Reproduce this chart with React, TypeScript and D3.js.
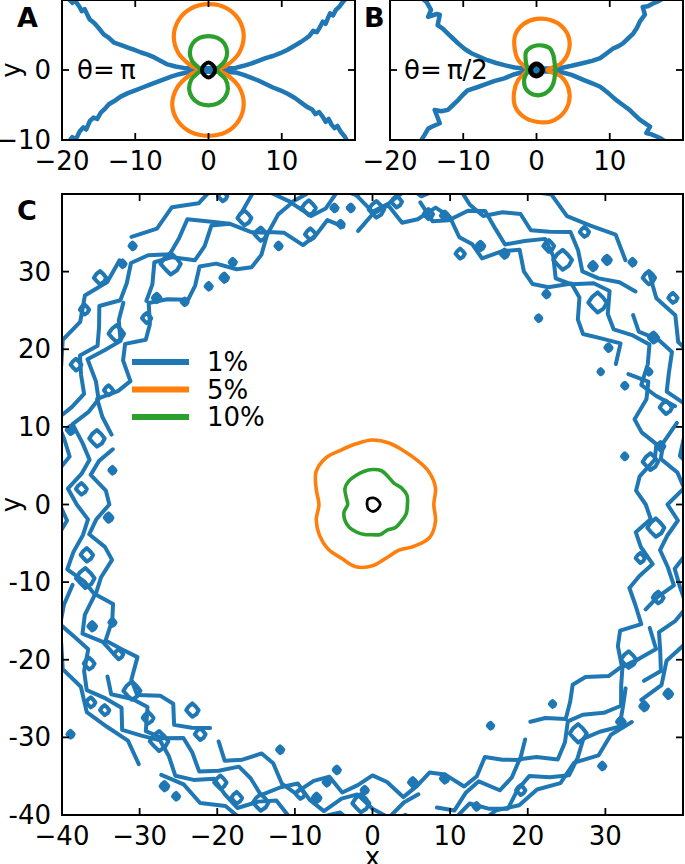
import React from 'react';
import * as d3 from 'd3';

const W = 685;
const H = 864;
const FONT = 'DejaVu Sans, sans-serif';

// ---------- colours / levels ----------
const levelNames = ['1%', '5%', '10%'];
const levelColors = ['#1f77b4', '#ff7f0e', '#2ca02c'];

// ---------- Panel A (theta = pi) ----------
const aUpperX = [-19.2, -18.6, -18.2, -17.6, -17.3, -16.9, -16.5, -16.2, -15.6, -15.0, -14.3, -13.6, -12.9, -12.0, -11.0, -10.2, -9.2, -8.3, -7.4, -6.5, -5.6, -4.5, -3.4, -2.0, 0, 2.0, 3.7, 4.8, 5.8, 6.8, 7.8, 8.8, 9.8, 10.8, 11.8, 12.6, 13.3, 13.8, 14.3, 14.8, 15.2, 15.6, 16.0, 16.3, 16.6, 17.0, 17.4, 17.9, 18.4, 18.9];
const aUpperY = [10.3, 9.6, 9.9, 9.0, 8.4, 8.7, 7.8, 7.2, 6.7, 6.0, 5.1, 4.6, 3.9, 3.6, 3.2, 2.9, 2.5, 2.2, 1.8, 1.3, 0.8, 0.5, 0.3, 0.25, 0.25, 0.25, 0.3, 0.6, 0.9, 1.3, 1.7, 2.0, 2.4, 2.9, 3.5, 4.0, 4.5, 4.9, 5.6, 5.4, 6.1, 6.9, 6.6, 7.4, 8.1, 7.8, 8.6, 9.1, 9.8, 10.3];
const aLowerX = [-19.2, -18.6, -18.1, -17.6, -17.1, -16.7, -16.2, -15.7, -15.2, -14.7, -14.2, -13.6, -12.8, -12.0, -11.0, -10.0, -9.0, -8.0, -7.0, -6.0, -5.0, -4.0, -3.0, -2.0, 0, 2.0, 3.7, 4.8, 5.8, 6.8, 7.8, 8.8, 9.8, 10.8, 11.8, 12.7, 13.5, 14.1, 14.6, 15.1, 15.6, 16.0, 16.4, 16.8, 17.2, 17.6, 18.1, 18.6, 19.0];
const aLowerY = [-10.4, -9.6, -9.9, -8.8, -8.2, -8.5, -7.3, -6.8, -7.0, -6.1, -5.6, -4.9, -4.4, -3.8, -3.3, -2.9, -2.5, -2.1, -1.7, -1.3, -0.9, -0.6, -0.35, -0.25, -0.25, -0.25, -0.35, -0.7, -1.1, -1.5, -2.0, -2.5, -2.9, -3.4, -4.0, -4.7, -5.3, -5.6, -6.3, -6.0, -6.7, -7.4, -7.0, -7.8, -8.3, -8.0, -8.9, -9.5, -10.3];
// radii every 15 degrees
const aOrangeR = [1.4, 2.6, 4.8, 6.8, 8.3, 9.2, 9.4, 9.1, 8.2, 6.7, 4.7, 2.5, 1.4, 2.6, 4.9, 7.0, 8.4, 9.2, 9.4, 9.2, 8.3, 6.8, 4.8, 2.6];
const aGreenR = [0.9, 1.4, 2.6, 3.6, 4.35, 4.75, 4.85, 4.75, 4.35, 3.6, 2.6, 1.4, 0.9, 1.45, 2.7, 3.75, 4.5, 4.95, 5.05, 4.95, 4.5, 3.75, 2.7, 1.45];
// radii every 30 degrees
const aBlackR = [0.88, 0.9, 0.95, 1.08, 0.95, 0.9, 0.88, 0.9, 0.95, 1.08, 0.95, 0.9];

// ---------- Panel B (theta = pi/2) ----------
const bUpperX = [-15.6, -15.0, -14.4, -14.8, -13.6, -13.2, -13.5, -12.8, -12.1, -11.4, -10.7, -9.8, -8.9, -7.8, -6.7, -5.5, -4.4, -3.0, -1.7, 0, 1.6, 3.2, 4.8, 6.4, 7.6, 8.7, 9.6, 10.5, 11.2, 11.8, 12.5, 13.2, 13.7, 14.1, 14.8, 14.5, 15.2, 15.9, 16.6, 17.4];
const bUpperY = [10.2, 9.7, 8.6, 7.6, 8.0, 7.9, 6.4, 5.9, 5.2, 4.5, 3.8, 3.0, 2.4, 1.9, 1.4, 1.0, 0.7, 0.35, 0.2, 0.2, 0.2, 0.25, 0.6, 1.0, 1.3, 1.7, 2.4, 3.1, 3.4, 3.8, 4.5, 5.2, 6.0, 6.9, 7.9, 9.0, 9.1, 9.5, 9.8, 10.3];
const bLowerX = [-15.9, -15.3, -14.8, -14.3, -13.2, -13.9, -13.0, -12.1, -11.4, -10.7, -10.0, -9.4, -8.2, -7.1, -5.8, -4.4, -3.0, -1.7, 0, 1.6, 3.2, 4.8, 6.4, 7.6, 8.7, 9.8, 10.9, 11.8, 12.7, 13.4, 14.1, 14.8, 15.5, 15.0, 15.7, 16.4, 17.0, 17.8];
const bLowerY = [-10.3, -9.3, -8.4, -8.1, -7.6, -5.7, -5.9, -5.7, -5.0, -4.3, -3.5, -2.9, -2.5, -2.1, -1.6, -1.2, -0.6, -0.25, -0.2, -0.2, -0.25, -0.7, -1.4, -1.9, -2.4, -3.3, -4.3, -5.0, -5.7, -6.4, -7.1, -7.6, -8.1, -9.0, -9.2, -9.5, -9.8, -10.4];
const bOrangeR = [1.5, 3.4, 5.0, 6.3, 7.1, 7.4, 7.3, 6.8, 5.8, 4.2, 2.9, 1.6, 1.2, 1.6, 2.9, 4.3, 5.9, 6.9, 7.4, 7.6, 7.2, 6.3, 5.0, 3.4];
const bGreenR = [2.6, 2.6, 2.8, 3.2, 3.6, 3.6, 3.5, 3.3, 2.9, 2.1, 1.6, 1.3, 1.2, 1.3, 1.8, 2.4, 3.0, 3.4, 3.6, 3.6, 3.4, 3.1, 2.8, 2.6];
const bBlackR = [0.8, 0.8, 0.82, 0.84, 0.82, 0.8, 0.8, 0.82, 0.84, 0.84, 0.82, 0.8];

// ---------- Panel C (all angles) ----------
const cOrangeR = [7.9, 8.4, 8.4, 8.1, 8.0, 8.2, 8.3, 8.1, 8.1, 8.5, 8.4, 7.5, 6.9, 7.5, 7.9, 8.1, 8.0, 8.3, 7.9, 7.1, 6.8, 7.6, 8.5, 8.4];
const cGreenR = [4.5, 4.6, 4.3, 3.9, 4.1, 4.5, 4.5, 4.4, 4.3, 4.3, 4.1, 3.5, 3.2, 3.8, 4.1, 4.2, 4.1, 4.0, 3.9, 4.0, 3.8, 4.2, 4.3, 4.5];
const cBlackR = [0.9, 0.8, 0.85, 0.95, 0.8, 0.85, 0.9, 0.8];
// 1% band: four jagged rings (radii every 3 degrees; outer every 4 degrees)
const bandInnerR = [
  35.2, 34.0, 34.6, 36.8, 37.4, 35.9, 35.5, 37.8, 38.9, 37.0,
  36.2, 38.1, 36.4, 34.9, 35.6, 37.7, 38.3, 36.0, 35.1, 35.8,
  37.9, 36.6, 34.7, 35.9, 36.2, 38.4, 39.1, 37.2, 36.5, 38.6,
  37.4, 35.3, 36.0, 37.1, 35.4, 34.6, 36.8, 37.6, 35.2, 34.3,
  35.0, 37.0, 37.9, 36.3, 35.5, 37.4, 38.8, 36.9, 36.1, 38.0,
  37.1, 35.0, 35.9, 38.0, 36.6, 34.8, 34.2, 35.7, 36.5, 34.4,
  33.9, 35.6, 36.7, 34.9, 34.3, 36.2, 37.5, 35.8, 36.7, 38.6,
  37.3, 36.1, 38.4, 39.0, 36.8, 36.3, 38.2, 37.0, 35.6, 36.4,
  38.1, 36.9, 35.1, 35.7, 37.8, 38.5, 36.4, 35.5, 37.3, 36.2,
  34.9, 35.8, 37.9, 36.7, 35.3, 36.0, 38.2, 37.5, 35.6, 36.9,
  38.0, 36.1, 34.6, 35.4, 37.2, 36.0, 34.7, 35.3, 37.6, 38.3,
  36.5, 35.8, 37.9, 36.3, 34.8, 35.6, 36.9, 35.0, 34.1, 35.9,
];
const bandMid1R = [
  38.0, 40.2, 39.5, 37.6, 38.3, 40.6, 41.0, 39.1, 37.9, 39.8,
  41.2, 40.0, 38.4, 39.0, 41.1, 40.3, 38.2, 37.5, 39.6, 40.8,
  39.2, 37.6, 38.9, 40.5, 39.8, 37.9, 37.3, 39.4, 40.7, 38.8,
  37.7, 39.9, 40.9, 38.6, 38.0, 40.2, 39.3, 37.5, 38.4, 40.6,
  41.5, 39.7, 38.9, 41.0, 42.0, 40.1, 39.2, 41.3, 40.4, 38.7,
  39.8, 41.2, 39.0, 37.8, 38.5, 40.0, 38.2, 36.9, 37.7, 39.3,
  38.1, 36.7, 37.5, 39.0, 40.2, 38.4, 37.6, 39.7, 40.9, 39.0,
  38.5, 40.7, 41.6, 39.8, 39.0, 41.3, 40.5, 38.7, 39.5, 41.0,
  39.6, 37.9, 38.6, 40.1, 38.3, 37.2, 38.9, 40.0, 38.1, 37.4,
  39.2, 40.4, 38.6, 37.8, 39.9, 40.8, 39.0, 38.2, 40.3, 39.5,
  37.9, 38.8, 40.6, 39.4, 37.6, 38.3, 40.1, 41.2, 39.6, 38.4,
  39.7, 41.0, 39.1, 37.7, 38.6, 40.2, 38.9, 37.5, 38.2, 39.4,
];
const bandMid2R = [
  40.5, 42.4, 41.7, 40.1, 41.0, 43.0, 42.2, 40.6, 41.8, 43.3,
  42.5, 40.9, 41.5, 43.6, 42.8, 41.2, 40.4, 42.1, 43.4, 41.9,
  40.8, 42.0, 41.2, 39.8, 40.6, 42.5, 41.6, 40.2, 41.4, 42.7,
  41.0, 39.9, 41.5, 42.6, 40.9, 40.3, 42.2, 43.0, 41.3, 40.6,
  42.1, 43.8, 42.4, 41.5, 43.2, 44.0, 42.6, 41.8, 43.5, 42.0,
  40.9, 42.3, 41.1, 39.8, 40.7, 42.2, 40.6, 39.5, 40.8, 41.9,
  40.3, 39.4, 40.9, 42.3, 41.2, 40.0, 41.8, 43.1, 42.0, 41.1,
  42.9, 43.9, 42.5, 41.6, 43.4, 42.1, 40.9, 41.7, 43.2, 42.3,
  40.8, 41.9, 42.8, 41.0, 40.1, 41.6, 42.5, 40.7, 39.9, 41.4,
  42.6, 41.3, 40.2, 41.8, 43.0, 41.7, 40.5, 42.0, 42.9, 41.2,
  40.4, 41.9, 43.1, 42.0, 40.6, 41.4, 42.8, 41.5, 40.3, 41.7,
  42.9, 41.6, 40.4, 41.8, 42.6, 41.0, 39.8, 40.9, 42.2, 41.1,
];
const bandOuterR = [
  43.5, 44.6, 43.2, 44.9, 45.5, 44.1, 45.8, 44.6, 46.0, 45.2,
  46.5, 45.3, 46.8, 45.6, 44.8, 46.1, 45.0, 44.2, 45.4, 44.0,
  44.7, 43.6, 44.9, 43.8, 44.5, 43.4, 44.8, 45.6, 44.3, 45.9,
  44.8, 46.2, 45.1, 46.4, 45.3, 44.6, 45.8, 44.4, 45.2, 43.9,
  44.6, 43.5, 44.2, 43.1, 44.4, 43.3, 44.0, 43.2, 44.5, 43.6,
  44.7, 43.9, 45.2, 44.3, 45.5, 44.6, 43.8, 45.0, 44.2, 43.5,
  44.4, 43.2, 44.1, 42.9, 43.8, 42.7, 43.6, 42.8, 43.9, 43.0,
  43.7, 42.6, 43.4, 42.5, 43.1, 42.4, 43.3, 42.2, 43.5, 42.7,
  43.6, 42.8, 43.9, 42.9, 44.1, 43.0, 43.7, 42.6, 43.8, 42.9,
];
// where each ring is broken (index of the missing step)
const bandInnerGaps = [9, 31, 55, 78, 101];
const bandMid1Gaps = [5, 27, 46, 70, 93, 112];
const bandMid2Gaps = [12, 38, 64, 85, 108];
const bandOuterGaps = [10, 33, 57, 80];
// isolated small islands of the 1% level
const blobX = [-19.3, -16.5, -14.4, -12.1, -8.2, -8.0, -4.9, -4.1, -2.8, 3.1, 7.2, 9.3, 11.3, 13.9, 17.0, 22.7, 27.3, 28.4, 30.2, 33.5, 35.6, 38.7, 21.4, 22.4, -30.9, -32.2, -35.1, -37.1, -29.1, -27.8, -24.2, -21.1, -19.1, -18.0, -34.0, -38.9, -33.5, -34.0, -36.1, -33.5, -32.7, -38.9, -36.3, -34.5, -28.9, -23.2, -22.2, -11.9, -19.6, -26.8, -25.3, -17.5, -14.4, -9.3, -4.6, -5.9, -7.2, -1.0, 5.2, 9.3, 13.4, 19.1, 23.2, 15.2, 29.6, 32.0, 35.0, 38.1, 34.5, 32.5, 29.4, 32.5, 35.6, 37.1, 30.4, -37.5, -36.8, -38.2, 36.8, 37.8, 36.2, -36.5, -37.0, -35.5, 36.5, 35.8, -26.0, 24.5, -27.5, 26.5, 0.5, -1.5, -33.0, 33.0, -31.0, 29.0];
const blobY = [39.7, 36.9, 34.8, 33.3, 38.2, 34.8, 38.2, 36.1, 38.2, 39.0, 37.4, 37.2, 32.3, 33.3, 32.3, 33.3, 35.1, 30.7, 31.5, 31.2, 29.2, 26.6, 24.0, 27.1, 33.3, 31.0, 29.2, 25.1, 24.0, 26.6, 26.1, 28.1, 29.2, 31.2, 14.7, 9.6, 4.4, -1.7, -15.7, -15.2, -19.3, -29.6, -25.5, -26.5, -27.5, -26.5, -29.6, -31.6, -35.8, -36.3, -37.6, -37.8, -38.4, -37.3, -34.2, -35.8, -37.8, -36.8, -35.8, -35.3, -38.9, -36.8, -25.7, -28.5, -33.7, -28.0, -26.0, -24.4, -6.9, 6.2, 17.1, 15.3, 17.1, 7.5, 20.2, 2.0, -6.5, 18.0, -12.0, 12.5, 21.5, -20.5, -9.5, 8.5, -3.0, 5.5, 31.0, 31.5, -30.5, -29.5, 38.0, -38.5, 22.0, -20.0, -24.0, 26.0];
const blobS = [0.6, 0.9, 0.8, 0.4, 0.9, 0.7, 0.4, 0.4, 0.4, 0.7, 0.6, 0.5, 0.6, 0.5, 0.5, 0.7, 0.6, 0.5, 0.5, 0.4, 0.8, 0.6, 0.35, 0.4, 0.4, 0.4, 0.8, 0.6, 0.6, 0.5, 0.4, 0.4, 0.5, 0.4, 0.6, 0.5, 0.4, 0.5, 0.5, 0.4, 0.6, 0.4, 0.6, 0.6, 0.7, 0.8, 0.7, 0.4, 0.8, 0.5, 0.4, 0.7, 1.0, 0.6, 0.4, 0.4, 0.5, 0.4, 0.5, 0.5, 0.4, 0.6, 0.35, 0.35, 0.4, 0.5, 0.5, 0.5, 0.6, 0.35, 0.3, 0.35, 0.35, 0.5, 0.4, 0.7, 0.8, 0.7, 0.7, 0.8, 0.6, 0.7, 1.2, 1.0, 1.1, 1.0, 1.3, 1.2, 1.2, 1.1, 1.0, 1.1, 1.0, 1.0, 1.1, 1.2];

// ---------- ticks ----------
const smallXTicks = [-20, -10, 0, 10];
const smallYTicks = [-10, 0, 10];
const smallYLabels = [0, -10];
const bigTicks = [-40, -30, -20, -10, 0, 10, 20, 30];

const BLOB_SHAPE = [1, 0.8, 1.1, 0.85, 1, 0.75, 1.05, 0.9];

type Pt = [number, number];

function polar(rs: number[], cx = 0, cy = 0): Pt[] {
  const n = rs.length;
  return rs.map((r, i) => {
    const a = (2 * Math.PI * i) / n;
    return [cx + r * Math.cos(a), cy + r * Math.sin(a)] as Pt;
  });
}

function ringSegments(pts: Pt[], gaps: number[]): Pt[][] {
  const n = pts.length;
  if (!gaps.length) return [[...pts, pts[0]]];
  const sorted = [...gaps].sort((a, b) => a - b);
  const segs: Pt[][] = [];
  for (let k = 0; k < sorted.length; k++) {
    const start = (sorted[k] + 1) % n;
    const end = sorted[(k + 1) % sorted.length];
    const seg: Pt[] = [];
    let i = start;
    let guard = 0;
    while (guard++ <= n) {
      seg.push(pts[i]);
      if (i === end) break;
      i = (i + 1) % n;
    }
    if (seg.length > 1) segs.push(seg);
  }
  return segs;
}

function zip(xs: number[], ys: number[]): Pt[] {
  return xs.map((x, i) => [x, ys[i]] as Pt);
}

const minus = (v: number) => (v < 0 ? '\u2212' + Math.abs(v) : String(v));

interface FrameProps {
  id: string;
  x0: number; x1: number; y0: number; y1: number;
  xs: d3.ScaleLinear<number, number>;
  ys: d3.ScaleLinear<number, number>;
  xTicks: number[]; yTicks: number[];
  children?: React.ReactNode;
}

function Frame({ id, x0, x1, y0, y1, xs, ys, xTicks, yTicks, children }: FrameProps) {
  const tl = 7;
  return (
    <g>
      <defs>
        <clipPath id={id}>
          <rect x={x0} y={y0} width={x1 - x0} height={y1 - y0} />
        </clipPath>
      </defs>
      <g clipPath={`url(#${id})`}>{children}</g>
      <rect x={x0} y={y0} width={x1 - x0} height={y1 - y0} fill="none" stroke="#000" strokeWidth={2} />
      {xTicks.map((t) => (
        <g key={'x' + t}>
          <line x1={xs(t)} x2={xs(t)} y1={y1} y2={y1 - tl} stroke="#000" strokeWidth={1.8} />
          <line x1={xs(t)} x2={xs(t)} y1={y0} y2={y0 + tl} stroke="#000" strokeWidth={1.8} />
        </g>
      ))}
      {yTicks.map((t) => (
        <g key={'y' + t}>
          <line x1={x0} x2={x0 + tl} y1={ys(t)} y2={ys(t)} stroke="#000" strokeWidth={1.8} />
          <line x1={x1} x2={x1 - tl} y1={ys(t)} y2={ys(t)} stroke="#000" strokeWidth={1.8} />
        </g>
      ))}
    </g>
  );
}

function SmallPanel(props: {
  id: string; x0: number; x1: number;
  upper: Pt[]; lower: Pt[]; orange: number[]; green: number[]; black: number[];
  blackWidth: number;
}) {
  const { id, x0, x1, upper, lower, orange, green, black, blackWidth } = props;
  const y0 = 0, y1 = 140;
  const xs = d3.scaleLinear().domain([-20, 20]).range([x0, x1]);
  const ys = d3.scaleLinear().domain([-10, 10]).range([y1, y0]);
  const open = d3.line<Pt>().x((d) => xs(d[0])).y((d) => ys(d[1])).curve(d3.curveLinear);
  const closed = d3.line<Pt>().x((d) => xs(d[0])).y((d) => ys(d[1])).curve(d3.curveCatmullRomClosed);
  return (
    <Frame id={id} x0={x0} x1={x1} y0={y0} y1={y1} xs={xs} ys={ys} xTicks={smallXTicks} yTicks={smallYTicks}>
      <path d={open(upper) || ''} fill="none" stroke={levelColors[0]} strokeWidth={4.5} strokeLinejoin="round" strokeLinecap="round" />
      <path d={open(lower) || ''} fill="none" stroke={levelColors[0]} strokeWidth={4.5} strokeLinejoin="round" strokeLinecap="round" />
      <path d={closed(polar(orange)) || ''} fill="none" stroke={levelColors[1]} strokeWidth={4.2} strokeLinejoin="round" />
      <path d={closed(polar(green)) || ''} fill="none" stroke={levelColors[2]} strokeWidth={4.2} strokeLinejoin="round" />
      <path d={closed(polar(black)) || ''} fill="none" stroke="#000" strokeWidth={blackWidth} strokeLinejoin="round" />
    </Frame>
  );
}

export default function App() {
  // panel A / B
  const aX0 = 62, aX1 = 355, bX0 = 390, bX1 = 683;
  const axs = d3.scaleLinear().domain([-20, 20]).range([aX0, aX1]);
  const bxs = d3.scaleLinear().domain([-20, 20]).range([bX0, bX1]);
  const sys = d3.scaleLinear().domain([-10, 10]).range([140, 0]);

  // panel C
  const cX0 = 62, cX1 = 683, cY0 = 194, cY1 = 815;
  const cxs = d3.scaleLinear().domain([-40, 40]).range([cX0, cX1]);
  const cys = d3.scaleLinear().domain([-40, 40]).range([cY1, cY0]);
  const openC = d3.line<Pt>().x((d) => cxs(d[0])).y((d) => cys(d[1])).curve(d3.curveLinear);
  const jag = d3.line<Pt>().x((d) => cxs(d[0])).y((d) => cys(d[1])).curve(d3.curveLinearClosed);
  const smooth = d3.line<Pt>().x((d) => cxs(d[0])).y((d) => cys(d[1])).curve(d3.curveCatmullRomClosed);

  const rings: [number[], number[]][] = [
    [bandOuterR, bandOuterGaps],
    [bandMid2R, bandMid2Gaps],
    [bandMid1R, bandMid1Gaps],
    [bandInnerR, bandInnerGaps],
  ];

  const tickFont = 26;

  return (
    <svg width={W} height={H} viewBox={`0 0 ${W} ${H}`} style={{ position: 'absolute', left: 0, top: 0, background: '#fff' }} fontFamily={FONT}>
      <rect x={0} y={0} width={W} height={H} fill="#fff" />

      {/* Panel A */}
      <SmallPanel id="clipA" x0={aX0} x1={aX1} upper={zip(aUpperX, aUpperY)} lower={zip(aLowerX, aLowerY)} orange={aOrangeR} green={aGreenR} black={aBlackR} blackWidth={4} />
      {/* Panel B */}
      <SmallPanel id="clipB" x0={bX0} x1={bX1} upper={zip(bUpperX, bUpperY)} lower={zip(bLowerX, bLowerY)} orange={bOrangeR} green={bGreenR} black={bBlackR} blackWidth={5} />

      {smallXTicks.map((t) => (
        <text key={'ax' + t} x={axs(t)} y={170} textAnchor="middle" fontSize={tickFont}>{minus(t)}</text>
      ))}
      {smallXTicks.map((t) => (
        <text key={'bx' + t} x={bxs(t)} y={170} textAnchor="middle" fontSize={tickFont}>{minus(t)}</text>
      ))}
      {smallYLabels.map((t) => (
        <text key={'ay' + t} x={51} y={sys(t)} textAnchor="end" dominantBaseline="central" fontSize={tickFont}>{minus(t)}</text>
      ))}
      <text x={11} y={sys(0)} transform={`rotate(-90, 11, ${sys(0)})`} textAnchor="middle" dominantBaseline="central" fontSize={tickFont}>y</text>
      <text x={77} y={sys(0)} dominantBaseline="central" fontSize={tickFont}>θ=&#8201;π</text>
      <text x={404} y={sys(0)} dominantBaseline="central" fontSize={tickFont}>θ=&#8201;π/2</text>
      <text x={17} y={27} fontSize={27} fontWeight="bold">A</text>
      <text x={364} y={27} fontSize={27} fontWeight="bold">B</text>

      {/* Panel C */}
      <Frame id="clipC" x0={cX0} x1={cX1} y0={cY0} y1={cY1} xs={cxs} ys={cys} xTicks={bigTicks} yTicks={bigTicks}>
        <g fill="none" stroke={levelColors[0]} strokeWidth={4} strokeLinejoin="round" strokeLinecap="round">
          {rings.map(([rs, gaps], k) =>
            ringSegments(polar(rs), gaps).map((seg, j) => <path key={k + '-' + j} d={openC(seg) || ''} />)
          )}
          {blobX.map((bx, i) => (
            <path
              key={'b' + i}
              d={jag(polar(BLOB_SHAPE.map((m) => m * blobS[i]), bx, blobY[i])) || ''}
              fill={blobS[i] < 0.55 ? levelColors[0] : 'none'}
            />
          ))}
        </g>
        <path d={smooth(polar(cOrangeR)) || ''} fill="none" stroke={levelColors[1]} strokeWidth={3.6} strokeLinejoin="round" />
        <path d={smooth(polar(cGreenR)) || ''} fill="none" stroke={levelColors[2]} strokeWidth={3.6} strokeLinejoin="round" />
        <path d={smooth(polar(cBlackR, 0.1, 0)) || ''} fill="none" stroke="#000" strokeWidth={2.8} strokeLinejoin="round" />
      </Frame>
      {bigTicks.map((t) => (
        <text key={'cx' + t} x={cxs(t)} y={845} textAnchor="middle" fontSize={tickFont}>{minus(t)}</text>
      ))}
      {bigTicks.map((t) => (
        <text key={'cy' + t} x={51} y={cys(t)} textAnchor="end" dominantBaseline="central" fontSize={tickFont}>{String(t)}</text>
      ))}
      <text x={cxs(0)} y={866} textAnchor="middle" fontSize={tickFont}>x</text>
      <text x={11} y={cys(0)} transform={`rotate(-90, 11, ${cys(0)})`} textAnchor="middle" dominantBaseline="central" fontSize={tickFont}>y</text>
      <text x={17} y={220} fontSize={27} fontWeight="bold">C</text>

      {/* Legend */}
      {levelNames.map((name, i) => (
        <g key={name}>
          <line x1={132} x2={189} y1={362 + i * 27.5} y2={362 + i * 27.5} stroke={levelColors[i]} strokeWidth={6} />
          <text x={207} y={362 + i * 27.5} dominantBaseline="central" fontSize={tickFont}>{name}</text>
        </g>
      ))}
    </svg>
  );
}
